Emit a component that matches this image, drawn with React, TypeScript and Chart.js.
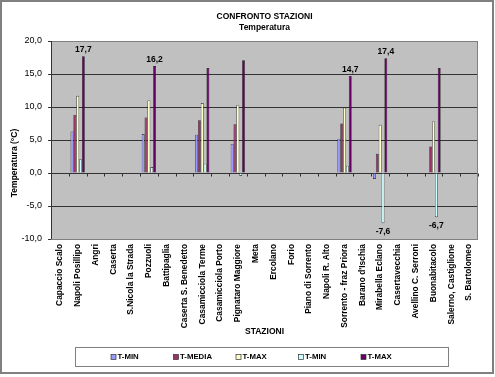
import React, { useEffect, useRef } from "react";
import { Chart, registerables } from "chart.js";

Chart.register(...registerables);

const stations = [
  "Capaccio Scalo", "Napoli Posillipo", "Angri", "Caserta", "S.Nicola la Strada",
  "Pozzuoli", "Battipaglia", "Caserta S. Benedetto", "Casamicciola Terme",
  "Casamicciola Porto", "Pignataro Maggiore", "Meta", "Ercolano", "Forio",
  "Piano di Sorrento", "Napoli R. Alto", "Sorrento - fraz Priora", "Barano d'Ischia",
  "Mirabella Eclano", "Casertavecchia", "Avellino C. Serroni", "Buonabitacolo",
  "Salerno, Castiglione", "S. Bartolomeo",
];

const N = null;
const tMin = [N, 6.3, N, N, N, 5.9, N, N, 5.8, N, 4.4, N, N, N, N, N, 5.2, N, -0.9, N, N, N, N, N];
const tMedia = [N, 8.8, N, N, N, 8.4, N, N, 8.0, N, 7.4, N, N, N, N, N, 7.5, N, 2.9, N, N, 4.0, N, N];
const tMax = [N, 11.7, N, N, N, 11.0, N, N, 10.6, N, 10.3, N, N, N, N, N, 9.9, N, 7.3, N, N, 7.8, N, N];
const tMin2 = [N, 2.1, N, N, N, 0.9, N, N, 1.4, N, -0.4, N, N, N, N, N, 1.1, N, -7.6, N, N, -6.7, N, N];
const tMax2 = [N, 17.7, N, N, N, 16.2, N, N, 15.9, N, 17.1, N, N, N, N, N, 14.7, N, 17.4, N, N, 15.9, N, N];

const seriesNames = ["T-MIN", "T-MEDIA", "T-MAX", "T-MIN", "T-MAX"];
const seriesColors = ["#9999FF", "#993366", "#FFFFCC", "#CCFFFF", "#660066"];
const labelledPoints: [number, number][] = [
  [4, 1], [4, 5], [4, 16], [4, 18], [3, 18], [3, 21],
];

const yMin = -10;
const yMax = 20;
const yStep = 5;

const FONT = "'Liberation Sans', Arial, sans-serif";

const fmt = (v: number) => v.toFixed(1).replace(".", ",");

export default function App() {
  const ref = useRef<HTMLCanvasElement>(null);

  useEffect(() => {
    document.body.style.margin = "0";
    const canvas = ref.current!;
    const series = [tMin, tMedia, tMax, tMin2, tMax2];

    const deco = {
      id: "deco",
      beforeDraw(chart: any) {
        const { ctx, chartArea: a } = chart;
        ctx.save();
        ctx.fillStyle = "#ffffff";
        ctx.fillRect(0, 0, chart.width, chart.height);
        ctx.fillStyle = "#C0C0C0";
        ctx.fillRect(a.left, a.top, a.right - a.left, a.bottom - a.top);
        ctx.restore();
      },
      afterDraw(chart: any) {
        const { ctx, chartArea: a } = chart;
        const y = chart.scales.y;
        ctx.save();
        // plot border
        ctx.strokeStyle = "#808080";
        ctx.lineWidth = 1;
        ctx.strokeRect(a.left + 0.5, a.top + 0.5, a.right - a.left - 1, a.bottom - a.top);
        // y axis line
        ctx.strokeStyle = "#333";
        ctx.beginPath();
        ctx.moveTo(a.left + 0.5, a.top);
        ctx.lineTo(a.left + 0.5, a.bottom);
        ctx.stroke();
        // category tick marks at zero line
        const y0 = Math.round(y.getPixelForValue(0)) + 0.5;
        const n = stations.length;
        const w = (a.right - a.left) / n;
        ctx.beginPath();
        for (let i = 0; i <= n; i++) {
          const x = Math.round(a.left + i * w) + 0.5;
          ctx.moveTo(x, y0);
          ctx.lineTo(x, y0 + 3);
        }
        ctx.stroke();

        // outer border
        ctx.strokeStyle = "#808080";
        ctx.lineWidth = 2;
        ctx.strokeRect(1, 1, chart.width - 3, chart.height - 5);

        const cx = (a.left + a.right) / 2;
        ctx.fillStyle = "#000";
        ctx.textAlign = "center";
        ctx.textBaseline = "middle";
        ctx.font = `bold 8.5px ${FONT}`;
        ctx.fillText("CONFRONTO STAZIONI", cx, 17);
        ctx.fillText("Temperatura", cx, 28);

        // x title
        ctx.fillText("STAZIONI", cx, 332);

        // y title
        ctx.save();
        ctx.translate(15, 163);
        ctx.rotate(-Math.PI / 2);
        ctx.fillText("Temperatura (°C)", 0, 0);
        ctx.restore();

        // data labels
        ctx.font = `bold 8.5px ${FONT}`;
        for (const [ds, idx] of labelledPoints) {
          const el = chart.getDatasetMeta(ds).data[idx];
          const v = series[ds][idx] as number;
          if (v >= 0) {
            ctx.textBaseline = "bottom";
            ctx.fillText(fmt(v), el.x, el.y - 2);
          } else {
            ctx.textBaseline = "top";
            ctx.fillText(fmt(v), el.x, el.y + 4);
          }
        }

        // legend
        const lx0 = 75, lx1 = 448, ly0 = 347, ly1 = 366;
        ctx.strokeStyle = "#808080";
        ctx.lineWidth = 1;
        ctx.strokeRect(lx0 + 0.5, ly0 + 0.5, lx1 - lx0, ly1 - ly0);
        ctx.textAlign = "left";
        ctx.textBaseline = "middle";
        ctx.font = `bold 7.8px ${FONT}`;
        const ly = (ly0 + ly1) / 2 + 0.5;
        const step = 62.5;
        seriesNames.forEach((name, i) => {
          const x = 111 + i * step;
          ctx.fillStyle = seriesColors[i];
          ctx.fillRect(x, ly - 2.5, 5, 5);
          ctx.strokeStyle = "#333";
          ctx.lineWidth = 0.7;
          ctx.strokeRect(x, ly - 2.5, 5, 5);
          ctx.fillStyle = "#000";
          ctx.fillText(name, x + 6.5, ly);
        });
        ctx.restore();
      },
    };

    const chart = new Chart(canvas, {
      type: "bar",
      data: {
        labels: stations,
        datasets: series.map((d, i) => ({
          label: seriesNames[i],
          data: d,
          backgroundColor: seriesColors[i],
          borderColor: "#111",
          borderWidth: 0.6,
          categoryPercentage: 0.8,
          barPercentage: 1.0,
        })),
      },
      options: {
        responsive: false,
        animation: false,
        devicePixelRatio: 1,
        layout: { padding: { left: 0, top: 41, right: 17, bottom: 47 } },
        plugins: {
          legend: { display: false },
          title: { display: false },
          tooltip: { enabled: false },
        },
        scales: {
          x: {
            grid: { display: false, drawTicks: false },
            border: { display: false },
            ticks: {
              autoSkip: false,
              maxRotation: 90,
              minRotation: 90,
              padding: 5,
              color: "#000",
              font: { family: FONT, size: 8.4, weight: "bold" },
            },
            afterFit: (s: any) => { s.height = 91; },
          },
          y: {
            min: yMin,
            max: yMax,
            ticks: {
              stepSize: yStep,
              padding: 6,
              color: "#000",
              font: { family: FONT, size: 9 },
              callback: (v: any) => fmt(Number(v)),
            },
            grid: { color: "#333", lineWidth: 1, tickLength: 3, drawTicks: true },
            border: { display: false },
            afterFit: (s: any) => { s.width = 51; },
          },
        },
      },
      plugins: [deco],
    });
    return () => chart.destroy();
  }, []);

  return <canvas ref={ref} width={495} height={377} style={{ display: "block" }} />;
}
